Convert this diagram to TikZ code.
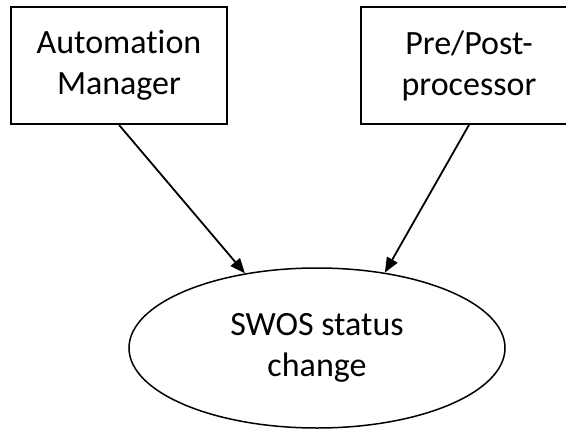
\documentclass[tikz,border=0pt]{standalone}
\usepackage{fontspec}
\setmainfont{Carlito}[Ligatures={NoCommon}]
\usetikzlibrary{shapes.geometric,arrows.meta}
\tikzset{
  boxnode/.style={draw, line width=1.8pt, minimum width=216pt, minimum height=117pt, inner sep=0pt, align=center, font=\fontsize{34}{41}\selectfont},
  ellnode/.style={draw, ellipse, line width=1.5pt, minimum width=376pt, minimum height=160pt, inner sep=0pt, align=center, font=\fontsize{34}{41}\selectfont},
  arr/.style={line width=1.8pt, -{Triangle[length=15pt,width=12pt]}}
}
\begin{document}
\begin{tikzpicture}[x=1pt,y=-1pt]
\useasboundingbox (0,0) rectangle (566,429);
\node[boxnode] (am) at (119,65.5) {Automation\\Manager};
\node[boxnode] (pp) at (469,65.5) {Pre/Post-\\processor};
\node[ellnode] (sw) at (317,348) {SWOS status\\change};
\draw[arr] (am.south) -- (sw.134);
\draw[arr] (pp.south) -- (sw.48.5);
\end{tikzpicture}
\end{document}
